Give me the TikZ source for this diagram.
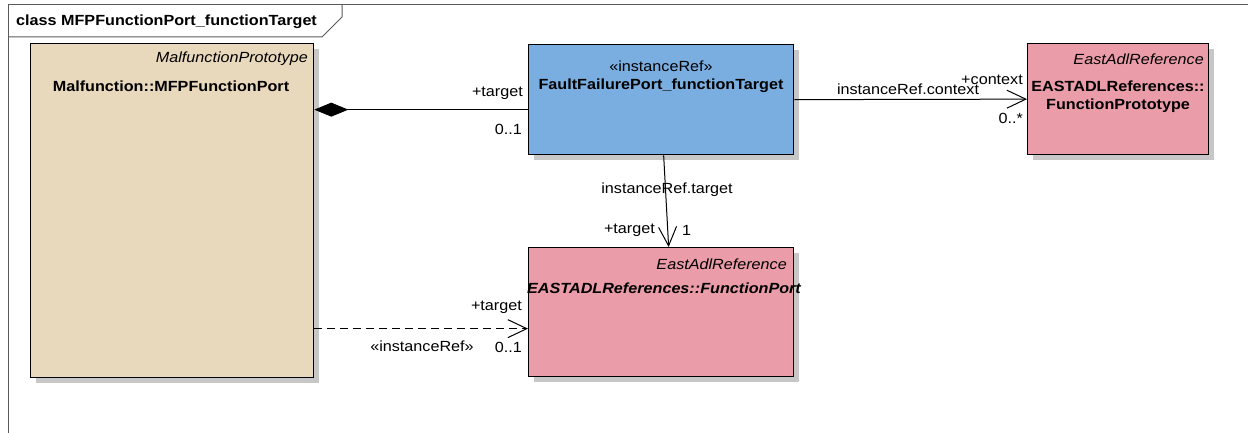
\documentclass[tikz,border=0pt]{standalone}
\usepackage{fontspec}
\setmainfont{Liberation Sans}[FakeStretch=1.1]
\usetikzlibrary{arrows.meta, positioning, shadows}
\definecolor{malfill}{RGB}{232,216,188}
\definecolor{reffill}{RGB}{122,174,224}
\definecolor{eastfill}{RGB}{234,156,168}
\definecolor{framegray}{RGB}{90,90,90}

\begin{document}
\begin{tikzpicture}[x=1pt, y=-1pt, font=\fontsize{14.7}{17}\selectfont,
    classbox/.style={rectangle, draw, line width=1.3pt, anchor=north west, inner sep=0pt,
      general shadow={fill=black!22, shadow xshift=5pt, shadow yshift=-5pt}},
    lbl/.style={inner sep=0pt},
    stereo/.style={inner sep=0pt, font=\fontsize{14.7}{17}\selectfont\itshape},
    title/.style={inner sep=0pt, font=\fontsize{14.7}{17}\selectfont\bfseries},
    assoc/.style={line width=1pt, -{Straight Barb[length=19pt, width=18pt]}}]

    \useasboundingbox (0,0) rectangle (1248,433);
    \draw[framegray, line width=1pt] (8,433) -- (8,5) -- (1248,5);
    \draw[framegray, line width=1pt] (8,37) -- (322,37) -- (342,17) -- (342,5);
    \node[title, anchor=west] (diagtitle) at (16,22) {class MFPFunctionPort\_functionTarget};

    \node[classbox, fill=malfill, minimum width=283pt, minimum height=334pt] (mfp) at (30,43) {};
    \node[classbox, fill=reffill, minimum width=265pt, minimum height=110pt] (ffp) at (528,44) {};
    \node[classbox, fill=eastfill, minimum width=181pt, minimum height=111pt] (proto) at (1027,43) {};
    \node[classbox, fill=eastfill, minimum width=265pt, minimum height=129pt] (fport) at (528,247) {};

    \node[stereo, anchor=east] (mfpst) at (308,59) {MalfunctionPrototype};
    \node[title] (mfpname) at (171,86) {Malfunction::MFPFunctionPort};
    \node[lbl] (ffpst) at (661,66) {«instanceRef»};
    \node[title] (ffpname) at (661,86) {FaultFailurePort\_functionTarget};
    \node[stereo, anchor=east] (protost) at (1204,59) {EastAdlReference};
    \node[title] (protoname) at (1118,86) {EASTADLReferences::};
    \node[title] (protoname2) at (1118,106) {FunctionPrototype};
    \node[stereo, anchor=east] (fportst) at (787,264) {EastAdlReference};
    \node[title, font=\fontsize{14.7}{17}\selectfont\bfseries\itshape] (fportname) at (664,288) {EASTADLReferences::FunctionPort};

    \coordinate (compR) at ([yshift=-10pt]ffp.west);
    \coordinate (compL) at (compR -| mfp.east);
    \draw[line width=1pt, {Diamond[length=34pt, width=14pt]}-] (compL) -- (compR);
    \draw[assoc] (ffp.east) -- (proto.west);
    \draw[assoc] ([xshift=2.5pt]ffp.south) -- ([xshift=7.5pt]fport.north);
    \coordinate (depR) at ([yshift=-16.5pt]fport.west);
    \coordinate (depL) at (depR -| mfp.east);
    \draw[assoc, dash pattern=on 8pt off 5pt] (depL) -- (depR);

    \node[lbl, anchor=east] (comptgt) at (523,93) {+target};
    \node[lbl, anchor=east] (compmul) at (522,129) {0..1};
    \node[lbl] (ctxrole) at (908,89) {instanceRef.context};
    \node[lbl, anchor=east] (ctxtgt) at (1023,80) {+context};
    \node[lbl, anchor=east] (ctxmul) at (1023,118) {0..*};
    \node[lbl] (tgtrole) at (667,190) {instanceRef.target};
    \node[lbl, anchor=east] (tgtname) at (655,230) {+target};
    \node[lbl, anchor=west] (tgtmul) at (682,230) {1};
    \node[lbl, anchor=east] (deptgt) at (522,307) {+target};
    \node[lbl] (depst) at (422,346) {«instanceRef»};
    \node[lbl, anchor=east] (depmul) at (522,347) {0..1};
  \end{tikzpicture}
\end{document}
